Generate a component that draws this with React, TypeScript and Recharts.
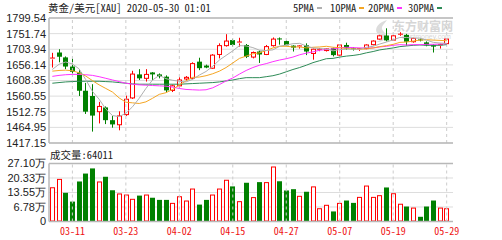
import React from 'react';
import {
  ComposedChart, Bar, Line, XAxis, YAxis, CartesianGrid, ReferenceLine,
} from 'recharts';

const dates = [
  '03-06', '03-09', '03-10', '03-11', '03-12', '03-13', '03-16', '03-17', '03-18', '03-19',
  '03-20', '03-23', '03-24', '03-25', '03-26', '03-27', '03-30', '03-31', '04-01', '04-02',
  '04-03', '04-06', '04-07', '04-08', '04-09', '04-13', '04-14', '04-15', '04-16', '04-17',
  '04-20', '04-21', '04-22', '04-23', '04-24', '04-27', '04-28', '04-29', '04-30', '05-01',
  '05-04', '05-05', '05-06', '05-07', '05-08', '05-11', '05-12', '05-13', '05-14', '05-15',
  '05-18', '05-19', '05-20', '05-21', '05-22', '05-25', '05-26', '05-27', '05-28', '05-29',
];
const tickDates = ['03-11', '03-23', '04-02', '04-15', '04-27', '05-07', '05-19', '05-29'];

const opens = [
  1673, 1694, 1679, 1651, 1633, 1577, 1561, 1513, 1526, 1487,
  1473, 1504, 1555, 1627, 1615, 1633, 1627, 1620, 1578, 1592,
  1613, 1615, 1666, 1654, 1646, 1688, 1715, 1732, 1722, 1717,
  1680, 1697, 1688, 1715, 1737, 1729, 1715, 1711, 1716, 1691,
  1701, 1700, 1707, 1686, 1717, 1707, 1703, 1706, 1718, 1735,
  1746, 1732, 1748, 1748, 1727, 1734, 1725, 1717, 1714, 1721,
];
const highs = [
  1693, 1704, 1682, 1676, 1640, 1601, 1597, 1543, 1529, 1500,
  1514, 1562, 1638, 1643, 1643, 1634, 1630, 1624, 1596, 1618,
  1622, 1664, 1678, 1657, 1689, 1722, 1750, 1736, 1739, 1720,
  1697, 1700, 1717, 1740, 1740, 1731, 1716, 1716, 1722, 1706,
  1708, 1707, 1709, 1719, 1724, 1710, 1708, 1719, 1731, 1748,
  1768, 1747, 1756, 1751, 1739, 1737, 1728, 1719, 1721, 1737,
];
const lows = [
  1648, 1664, 1643, 1630, 1561, 1506, 1452, 1477, 1475, 1464,
  1456, 1500, 1552, 1610, 1605, 1610, 1615, 1572, 1573, 1585,
  1608, 1612, 1640, 1646, 1644, 1676, 1712, 1712, 1712, 1677,
  1676, 1662, 1686, 1712, 1718, 1714, 1697, 1706, 1686, 1672,
  1698, 1697, 1682, 1684, 1702, 1700, 1699, 1704, 1716, 1733,
  1728, 1730, 1745, 1715, 1724, 1728, 1713, 1694, 1706, 1719,
];
const closes = [
  1677, 1681, 1651, 1635, 1577, 1513, 1501, 1529, 1487, 1474,
  1500, 1551, 1628, 1615, 1627, 1627, 1621, 1578, 1592, 1610,
  1618, 1660, 1646, 1648, 1686, 1715, 1729, 1717, 1726, 1681,
  1694, 1688, 1712, 1735, 1734, 1716, 1709, 1714, 1697, 1704,
  1704, 1705, 1686, 1717, 1707, 1704, 1706, 1717, 1729, 1745,
  1731, 1745, 1750, 1727, 1737, 1731, 1716, 1712, 1718, 1735,
];

const ma5 = [
  1642, 1658, 1665, 1659, 1644, 1611, 1575, 1551, 1521, 1501,
  1498, 1508, 1528, 1554, 1584, 1610, 1624, 1614, 1609, 1606,
  1604, 1612, 1625, 1636, 1652, 1671, 1685, 1699, 1715, 1714,
  1709, 1701, 1700, 1702, 1713, 1717, 1721, 1722, 1714, 1708,
  1706, 1705, 1699, 1703, 1704, 1704, 1704, 1710, 1713, 1720,
  1726, 1733, 1740, 1740, 1738, 1738, 1732, 1725, 1723, 1722,
];
const ma10 = [
  1637, 1639, 1640, 1638, 1632, 1622, 1608, 1595, 1584, 1573,
  1555, 1542, 1540, 1538, 1543, 1554, 1566, 1571, 1581, 1595,
  1607, 1618, 1619, 1623, 1629, 1637, 1648, 1662, 1676, 1683,
  1690, 1693, 1700, 1708, 1713, 1713, 1711, 1711, 1708, 1710,
  1711, 1713, 1710, 1709, 1706, 1705, 1704, 1705, 1708, 1712,
  1715, 1719, 1725, 1726, 1729, 1732, 1733, 1732, 1731, 1730,
];
const ma20 = [
  1621, 1624, 1626, 1627, 1627, 1626, 1624, 1620, 1615, 1610,
  1605, 1600, 1597, 1595, 1594, 1593, 1592, 1591, 1588, 1584,
  1581, 1580, 1579, 1580, 1586, 1596, 1607, 1616, 1628, 1639,
  1648, 1655, 1660, 1666, 1671, 1675, 1680, 1687, 1692, 1696,
  1701, 1703, 1705, 1708, 1710, 1709, 1708, 1708, 1708, 1711,
  1713, 1716, 1718, 1717, 1718, 1718, 1719, 1719, 1720, 1721,
];
const ma30 = [
  1600, 1602, 1604, 1605, 1606, 1606, 1606, 1606, 1605, 1604,
  1602, 1600, 1598, 1597, 1597, 1597, 1597, 1597, 1597, 1597,
  1598, 1599, 1600, 1601, 1602, 1604, 1607, 1610, 1614, 1617,
  1617, 1617, 1620, 1623, 1628, 1635, 1642, 1648, 1655, 1663,
  1669, 1675, 1676, 1680, 1683, 1685, 1688, 1693, 1697, 1702,
  1705, 1708, 1712, 1714, 1716, 1717, 1716, 1716, 1716, 1718,
];

// volume in 万
const volumes = [
  16.0, 19.9, 13.4, 9.3, 18.7, 22.4, 24.8, 18.7, 20.9, 14.6,
  13.1, 12.6, 10.6, 12.1, 12.6, 11.1, 10.1, 10.1, 8.7, 11.8,
  9.8, 15.4, 7.9, 10.1, 12.6, 15.4, 19.5, 16.4, 9.5, 18.1,
  11.4, 18.4, 18.4, 25.7, 18.8, 14.5, 15.1, 12.0, 13.9, 16.4,
  6.2, 7.8, 4.7, 8.7, 9.8, 8.7, 11.5, 16.8, 11.5, 12.3,
  15.9, 13.2, 8.3, 7.0, 6.5, 2.2, 7.0, 9.8, 6.5, 6.2,
];
const volUp = [
  1, 1, 0, 0, 0, 0, 0, 1, 0, 0,
  1, 1, 1, 0, 1, 0, 0, 0, 1, 1,
  1, 1, 0, 0, 1, 1, 1, 0, 1, 0,
  1, 0, 1, 1, 0, 0, 0, 1, 0, 1,
  1, 1, 0, 1, 0, 0, 1, 1, 1, 1,
  0, 1, 1, 0, 1, 0, 0, 0, 1, 1,
];

const priceTicks = [1417.15, 1464.95, 1512.75, 1560.55, 1608.35, 1656.14, 1703.94, 1751.74, 1799.54];
const volTicks = [0, 6.78, 13.55, 20.33, 27.1];

const UP = '#ff0000';
const DOWN = '#008000';
const FRAME = '#b8b8b8';
const GRID = '#dddddd';
const VGRID = '#cccccc';
const MONO = '"Noto Sans Mono CJK SC", "DejaVu Sans Mono", "Noto Sans CJK SC", monospace';
const SANS = '"Liberation Sans", Arial, sans-serif';

const rows = dates.map((date, i) => ({
  date,
  open: opens[i],
  high: highs[i],
  low: lows[i],
  close: closes[i],
  range: [lows[i], highs[i]],
  ma5: ma5[i],
  ma10: ma10[i],
  ma20: ma20[i],
  ma30: ma30[i],
  vol: volumes[i],
  volUp: volUp[i] === 1,
}));

function Candle(props: any) {
  const { x, y, width, height, payload } = props;
  const { open, close, high, low } = payload;
  const top0 = Math.min(y, y + height);
  const h = Math.abs(height);
  const k = high === low ? 0 : h / (high - low);
  const yOf = (v: number) => top0 + (high - v) * k;
  const bx = Math.round(x);
  const w = Math.round(width);
  const cx = bx + Math.floor(w / 2) + 0.5;
  const up = close >= open;
  const color = up ? UP : DOWN;
  const bTop = yOf(Math.max(open, close));
  const bBot = yOf(Math.min(open, close));
  const bh = bBot - bTop;
  if (up) {
    return (
      <g>
        <line x1={cx} x2={cx} y1={top0} y2={bTop} stroke={color} />
        <line x1={cx} x2={cx} y1={bBot} y2={top0 + h} stroke={color} />
        {bh < 1.5
          ? <line x1={bx} x2={bx + w} y1={bTop} y2={bTop} stroke={color} />
          : <rect x={bx + 0.5} y={bTop} width={w - 1} height={bh} fill="#fff" stroke={color} />}
      </g>
    );
  }
  return (
    <g>
      <line x1={cx} x2={cx} y1={top0} y2={top0 + h} stroke={color} />
      <rect x={bx} y={bTop} width={w} height={Math.max(bh, 1)} fill={color} />
    </g>
  );
}

function VolBar(props: any) {
  const { x, y, width, height, payload } = props;
  const bx = Math.round(x);
  const w = Math.round(width);
  if (payload.volUp) {
    return <rect x={bx + 0.5} y={y + 0.5} width={w - 1} height={Math.max(height - 1, 0)} fill="#fff" stroke={UP} />;
  }
  return <rect x={bx} y={y} width={w} height={height} fill={DOWN} />;
}

const legend = [
  { label: '5PMA', color: '#b0b0b0', left: 293 },
  { label: '10PMA', color: '#f5a623', left: 330 },
  { label: '20PMA', color: '#ff33ff', left: 368 },
  { label: '30PMA', color: '#2e8b57', left: 408 },
];

const tickStyle = { fontSize: 11, fontFamily: SANS, fill: '#222' };

export default function App() {
  return (
    <div style={{ position: 'fixed', left: 0, top: 0, width: 502, height: 240, background: '#fff', overflow: 'hidden' }}>
      <div style={{ position: 'absolute', left: 48, top: 0, lineHeight: '15px', fontSize: 10.5, fontFamily: MONO, color: '#222', whiteSpace: 'nowrap' }}>
        黄金/美元[XAU] 2020-05-30 01:01
      </div>
      {legend.map((l) => (
        <div key={l.label} style={{ position: 'absolute', left: l.left, top: 0, lineHeight: '15px', fontSize: 10.5, fontFamily: MONO, color: '#222', whiteSpace: 'nowrap', display: 'flex', alignItems: 'center' }}>
          <span>{l.label}</span>
          <span style={{ display: 'inline-block', width: 5, height: 2, background: l.color, marginLeft: 3 }} />
        </div>
      ))}

      {/* watermark */}
      <svg style={{ position: 'absolute', left: 371, top: 19 }} width={22} height={24}>
        <path d="M16 1 C 8 3, 3 9, 6 14 C 8 17, 12 16, 10 20 C 9 22, 6 23, 3 23 C 9 24, 15 21, 15 17 C 15 13, 10 12, 11 8 C 12 5, 15 3, 16 1 Z" fill="#dcdcdc" />
      </svg>
      <div style={{ position: 'absolute', left: 393, top: 20, color: '#d6d6d6', fontFamily: '"Noto Sans CJK SC", sans-serif', fontWeight: 700, fontSize: 12, lineHeight: '12px', whiteSpace: 'nowrap' }}>
        东方财富网
      </div>
      <div style={{ position: 'absolute', left: 402, top: 33, color: '#d6d6d6', fontFamily: SANS, fontSize: 7, lineHeight: '7px', whiteSpace: 'nowrap' }}>
        eastmoney.com
      </div>

      <div style={{ position: 'absolute', left: 0, top: 0 }}>
        <ComposedChart width={502} height={150} data={rows} margin={{ top: 18, right: 49, left: 0, bottom: 7 }}>
          <CartesianGrid vertical={false} stroke={GRID} />
          <XAxis dataKey="date" hide padding={{ left: 0, right: 3 }} />
          <YAxis
            domain={[priceTicks[0], priceTicks[priceTicks.length - 1]]}
            ticks={priceTicks}
            interval={0}
            allowDataOverflow
            width={49}
            tickSize={0}
            tickMargin={3}
            tick={tickStyle}
            tickFormatter={(v: number) => v.toFixed(2)}
            axisLine={{ stroke: FRAME, strokeWidth: 1.5 }}
            tickLine={false}
          />
          <YAxis yAxisId="r" orientation="right" width={0} tick={false} tickLine={false} axisLine={{ stroke: FRAME, strokeWidth: 1.5 }} />
          {tickDates.map((d) => (
            <ReferenceLine key={d} x={d} stroke={VGRID} strokeDasharray="3 3" />
          ))}
          <ReferenceLine y={priceTicks[0]} stroke={FRAME} strokeWidth={1.5} />
          <ReferenceLine y={priceTicks[priceTicks.length - 1]} stroke={FRAME} strokeWidth={1.5} />
          <Line dataKey="ma30" stroke="#2e8b57" dot={false} strokeWidth={1} isAnimationActive={false} />
          <Line dataKey="ma20" stroke="#ff33ff" dot={false} strokeWidth={1} isAnimationActive={false} />
          <Line dataKey="ma10" stroke="#f5a623" dot={false} strokeWidth={1} isAnimationActive={false} />
          <Line dataKey="ma5" stroke="#b0b0b0" dot={false} strokeWidth={1} isAnimationActive={false} />
          <Bar dataKey="range" barSize={5} shape={Candle} isAnimationActive={false} />
        </ComposedChart>
      </div>

      <div style={{ position: 'absolute', left: 50, top: 147, lineHeight: '15px', fontSize: 10.5, fontFamily: MONO, color: '#222', whiteSpace: 'nowrap' }}>
        成交量:64011
      </div>

      <div style={{ position: 'absolute', left: 0, top: 150 }}>
        <ComposedChart width={502} height={90} data={rows} margin={{ top: 13.5, right: 49, left: 0, bottom: 0 }}>
          <CartesianGrid vertical={false} stroke={GRID} />
          <XAxis
            dataKey="date"
            ticks={tickDates}
            interval={0}
            height={18.5}
            padding={{ left: 0, right: 3 }}
            tickLine={false}
            tickSize={4}
            tickMargin={2}
            axisLine={{ stroke: FRAME, strokeWidth: 1.5 }}
            tick={{ fontSize: 10, fontFamily: MONO, fill: '#ee1111' }}
          />
          <YAxis
            domain={[0, volTicks[volTicks.length - 1]]}
            ticks={volTicks}
            interval={0}
            allowDataOverflow
            width={49}
            tickSize={0}
            tickMargin={3}
            tick={tickStyle}
            tickFormatter={(v: number) => (v === 0 ? '0' : `${v.toFixed(2)}万`)}
            axisLine={{ stroke: FRAME, strokeWidth: 1.5 }}
            tickLine={false}
          />
          <YAxis yAxisId="r" orientation="right" width={0} tick={false} tickLine={false} axisLine={{ stroke: FRAME, strokeWidth: 1.5 }} />
          {tickDates.map((d) => (
            <ReferenceLine key={d} x={d} stroke={VGRID} strokeDasharray="3 3" />
          ))}
          <ReferenceLine y={volTicks[volTicks.length - 1]} stroke={FRAME} strokeWidth={1.5} />
          <Bar dataKey="vol" barSize={5} shape={VolBar} isAnimationActive={false} />
        </ComposedChart>
      </div>
    </div>
  );
}
